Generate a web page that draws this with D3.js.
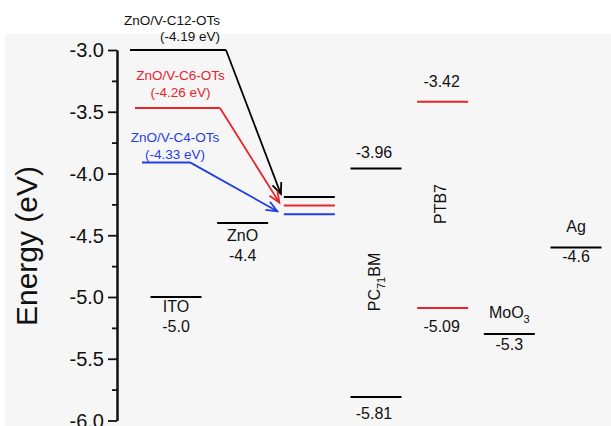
<!DOCTYPE html>
<html>
<head>
<meta charset="utf-8">
<script src="https://cdn.jsdelivr.net/npm/d3@7"></script>
<style>
  html, body { margin: 0; padding: 0; background: #ffffff; }
  svg { display: block; font-family: Arial, "Liberation Sans", Helvetica, sans-serif; }
</style>
</head>
<body>
<svg id="chart" width="611" height="426"></svg>
<script>
// Energy level columns (left to right)
const columns = ["ITO", "ZnO", "ZnO/V-OTs", "PC71BM", "PTB7", "MoO3", "Ag"];

// Single-level materials (work functions, eV)
const wfNames = ["ITO", "ZnO", "MoO3", "Ag"];
const wfValues = [-5.0, -4.4, -5.3, -4.6];

// Two-level materials (LUMO, HOMO, eV)
const pcbmLevels = [-3.96, -5.81];
const ptb7Levels = [-3.42, -5.09];

// Modified ZnO work functions
const otsNames = ["ZnO/V-C12-OTs", "ZnO/V-C6-OTs", "ZnO/V-C4-OTs"];
const otsValues = [-4.19, -4.26, -4.33];
const otsStart = [-3.0, -3.47, -3.91];
const otsColors = ["#000000", "#e8222a", "#1f3ee6"];

// Y axis ticks
const majorTicks = [-3.0, -3.5, -4.0, -4.5, -5.0, -5.5, -6.0];
const minorTicks = [-3.25, -3.75, -4.25, -4.75, -5.25, -5.75];

const svg = d3.select("#chart");
const W = 611, H = 426;

// light plot background
svg.append("rect").attr("x", 5).attr("y", 34).attr("width", W - 5).attr("height", H - 34)
  .attr("fill", "#f6f6f6");

const y = d3.scaleLinear().domain([-3, -6]).range([50, 420.5]);
const xi = d3.scaleLinear().domain([0, columns.length - 1]).range([176, 576]);
const x = name => xi(columns.indexOf(name));
const halfW = 25.5;
const textColor = "#111111";

// axis
const axisX = 117;
const fmt = d => d.toFixed(1);
const gMajor = svg.append("g").attr("transform", `translate(${axisX},0)`)
  .call(d3.axisLeft(y).tickValues(majorTicks).tickFormat(fmt).tickSize(9).tickSizeOuter(0).tickPadding(4));
const gMinor = svg.append("g").attr("transform", `translate(${axisX},0)`)
  .call(d3.axisLeft(y).tickValues(minorTicks).tickFormat("").tickSize(5).tickSizeOuter(0));
[gMajor, gMinor].forEach(g => {
  g.select(".domain").attr("stroke", "#111").attr("stroke-width", 2);
  g.selectAll(".tick line").attr("stroke", "#111").attr("stroke-width", 1.8);
});
gMajor.selectAll(".tick text").attr("font-size", 20).attr("fill", textColor)
  .attr("font-family", "Arial, 'Liberation Sans', sans-serif").attr("dy", "0.34em");

svg.append("text")
  .attr("transform", `translate(37,246) rotate(-90)`)
  .attr("text-anchor", "middle").attr("font-size", 30).attr("fill", textColor)
  .text("Energy (eV)");

// helper for a level bar
function level(cx, v, color) {
  svg.append("line")
    .attr("x1", cx - halfW).attr("x2", cx + halfW)
    .attr("y1", y(v)).attr("y2", y(v))
    .attr("stroke", color).attr("stroke-width", 2);
}
function label(cx, yy, txt, size, color, anchor) {
  return svg.append("text").attr("x", cx).attr("y", yy)
    .attr("text-anchor", anchor || "middle").attr("font-size", size)
    .attr("fill", color || textColor).text(txt);
}

// single-level materials
const wfNameOffset = { ITO: 15, ZnO: 18, MoO3: -16, Ag: -16 };
const wfValOffset = { ITO: 35, ZnO: 38, MoO3: 16, Ag: 14 };
wfNames.forEach((n, i) => {
  const cx = x(n), v = wfValues[i];
  level(cx, v, "#000");
  if (n === "MoO3") {
    const t = label(cx, y(v) + wfNameOffset[n], "", 16);
    t.append("tspan").text("MoO");
    t.append("tspan").attr("font-size", 11).attr("dy", 5).text("3");
  } else {
    label(cx, y(v) + wfNameOffset[n], n, 16);
  }
  label(cx, y(v) + wfValOffset[n], v.toFixed(1), 16);
});

// PC71BM
const cPc = x("PC71BM");
level(cPc, pcbmLevels[0], "#000");
level(cPc, pcbmLevels[1], "#000");
label(cPc - 2, y(pcbmLevels[0]) - 11, pcbmLevels[0].toFixed(2), 16);
label(cPc - 2, y(pcbmLevels[1]) + 22, pcbmLevels[1].toFixed(2), 16);
const pcT = svg.append("text")
  .attr("transform", `translate(${cPc + 4},282) rotate(-90)`)
  .attr("text-anchor", "middle").attr("font-size", 16).attr("fill", textColor);
pcT.append("tspan").text("PC");
pcT.append("tspan").attr("font-size", 11).attr("dy", 5).text("71");
pcT.append("tspan").attr("dy", -5).text("BM");

// PTB7
const cPt = x("PTB7");
level(cPt, ptb7Levels[0], "#e8222a");
level(cPt, ptb7Levels[1], "#e8222a");
label(cPt - 1, y(ptb7Levels[0]) - 15, ptb7Levels[0].toFixed(2), 16);
label(cPt - 1, y(ptb7Levels[1]) + 24, ptb7Levels[1].toFixed(2), 16);
svg.append("text")
  .attr("transform", `translate(${cPt + 3},204) rotate(-90)`)
  .attr("text-anchor", "middle").attr("font-size", 16).attr("fill", textColor)
  .text("PTB7");

// modified ZnO levels with arrows from the labelled lines
const cOts = x("ZnO/V-OTs");
const startSpan = [[-0.69, 0.75], [-0.615, 0.66], [-0.51, 0.21]]; // in column units
const tipDx = [-28.5, -30, -32];
otsNames.forEach((n, i) => {
  const col = otsColors[i];
  level(cOts, otsValues[i], col);
  const x0 = xi(startSpan[i][0]), x1 = xi(startSpan[i][1]);
  const ys = y(otsStart[i]);
  svg.append("line").attr("x1", x0).attr("x2", x1).attr("y1", ys).attr("y2", ys)
    .attr("stroke", col).attr("stroke-width", 2);
  const tx = cOts + tipDx[i], ty = y(otsValues[i]) - 3;
  svg.append("line").attr("x1", x1).attr("y1", ys).attr("x2", tx).attr("y2", ty)
    .attr("stroke", col).attr("stroke-width", 1.8);
  const ang = Math.atan2(ty - ys, tx - x1);
  const L = 12, spread = 0.4;
  const pts = [
    [tx - L * Math.cos(ang - spread), ty - L * Math.sin(ang - spread)],
    [tx, ty],
    [tx - L * Math.cos(ang + spread), ty - L * Math.sin(ang + spread)]
  ];
  svg.append("path").attr("d", d3.line()(pts)).attr("fill", "none")
    .attr("stroke", col).attr("stroke-width", 1.8).attr("stroke-linejoin", "miter");

  const valTxt = `(${otsValues[i].toFixed(2)} eV)`;
  if (i === 0) {
    label(x1 - 6, 25, n, 13.5, "#111", "end");
    label(x1 - 6, 41, valTxt, 13.5, "#111", "end");
  } else {
    const cx = i === 1 ? 180.5 : 175;
    const b = i === 1 ? 80 : 141.5;
    label(cx, b, n, 13.5, col);
    label(cx, b + 17, valTxt, 13.5, col);
  }
});
</script>
</body>
</html>
